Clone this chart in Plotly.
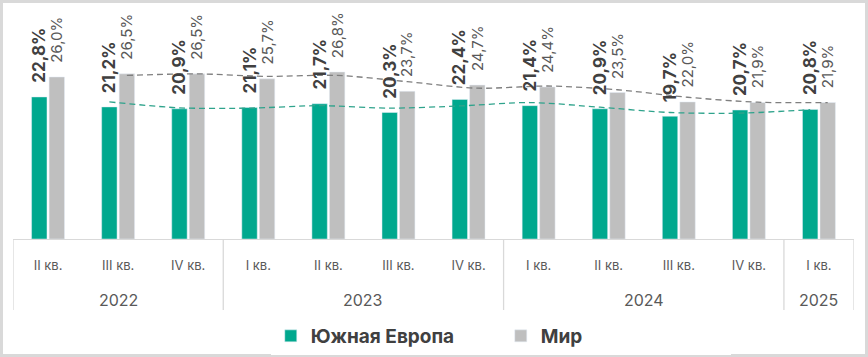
import plotly.graph_objects as go

quarters = ["II кв.", "III кв.", "IV кв.", "I кв.", "II кв.", "III кв.", "IV кв.",
            "I кв.", "II кв.", "III кв.", "IV кв.", "I кв."]
years = ["2022", "2022", "2022", "2023", "2023", "2023", "2023",
         "2024", "2024", "2024", "2024", "2025"]
south = [22.8, 21.2, 20.9, 21.1, 21.7, 20.3, 22.4, 21.4, 20.9, 19.7, 20.7, 20.8]
world = [26.0, 26.5, 26.5, 25.7, 26.8, 23.7, 24.7, 24.4, 23.5, 22.0, 21.9, 21.9]
# trend lines (2-period moving average, starting at second quarter)
south_trend = [22.0, 21.05, 21.0, 21.4, 21.0, 21.35, 21.9, 21.15, 20.3, 20.2, 20.75]
world_trend = [26.25, 26.5, 26.1, 26.25, 25.25, 24.2, 24.55, 23.95, 22.75, 21.95, 21.9]

FONT = "Inter"
GREEN = "#00A88E"
GREY = "#BFBFBF"
idx = list(range(len(quarters)))
off = 0.125

fig = go.Figure()
fig.add_bar(x=idx, y=south, name="Южная Европа", marker_color=GREEN)
fig.add_bar(x=idx, y=world, name="Мир", marker_color=GREY)
fig.add_scatter(x=[i - off for i in idx[1:]], y=south_trend, mode="lines",
                line=dict(color="#2FA38C", width=1.3, dash="6px,4px", shape="spline", smoothing=0.8),
                showlegend=False, hoverinfo="skip")
fig.add_scatter(x=[i + off for i in idx[1:]], y=world_trend, mode="lines",
                line=dict(color="#7F7F7F", width=1.3, dash="6px,4px", shape="spline", smoothing=0.8),
                showlegend=False, hoverinfo="skip")

ann = []
for i, v in zip(idx, south):
    ann.append(dict(x=i - off, y=v, xref="x", yref="y", text=f"{v:.1f}%".replace(".", ","),
                    textangle=-90, showarrow=False, xanchor="center", yanchor="bottom", yshift=12,
                    font=dict(family=FONT, size=17, color="#404040", weight="bold")))
for i, v in zip(idx, world):
    ann.append(dict(x=i + off, y=v, xref="x", yref="y", text=f"{v:.1f}%".replace(".", ","),
                    textangle=-90, showarrow=False, xanchor="center", yanchor="bottom", yshift=12,
                    font=dict(family=FONT, size=15, color="#595959")))

# year groups
groups = []
for i, yv in enumerate(years):
    if not groups or groups[-1][0] != yv:
        groups.append([yv, i, i])
    else:
        groups[-1][2] = i
shapes = []
for yv, a, b in groups:
    ann.append(dict(x=(a + b) / 2, y=-60.5 / 229, xref="x", yref="paper", text=yv, showarrow=False,
                    xanchor="center", yanchor="middle",
                    font=dict(family=FONT, size=16, color="#595959")))
    shapes.append(dict(type="line", xref="x", yref="paper", x0=a - 0.5, x1=a - 0.5, y0=0, y1=-71 / 229,
                       line=dict(color="#D9D9D9", width=1.3)))
shapes.append(dict(type="line", xref="x", yref="paper", x0=idx[-1] + 0.5, x1=idx[-1] + 0.5, y0=0, y1=-71 / 229,
                   line=dict(color="#D9D9D9", width=1.3)))
# outer border
shapes.append(dict(type="rect", xref="paper", yref="paper",
                   x0=-11.5 / 841, x1=1 + 12.5 / 841, y0=-116.5 / 229, y1=1 + 8.5 / 229,
                   line=dict(color="#D9D9D9", width=3), layer="below"))

fig.update_layout(
    width=868, height=357,
    margin=dict(l=13, r=14, t=10, b=118, autoexpand=False),
    paper_bgcolor="white", plot_bgcolor="white",
    barmode="group", bargap=0.5, bargroupgap=0.12,
    font=dict(family=FONT, color="#595959"),
    xaxis=dict(range=[-0.5, len(idx) - 0.5], tickvals=idx, ticktext=quarters, showgrid=False,
               zeroline=False, showline=True, linecolor="#D9D9D9", linewidth=1.3,
               ticks="outside", ticklen=14, tickcolor="rgba(0,0,0,0)",
               tickfont=dict(family=FONT, size=13, color="#595959")),
    yaxis=dict(range=[0, 36.75], visible=False),
    legend=dict(orientation="h", x=0.580, xanchor="center", y=-97 / 229, yanchor="middle",
                entrywidth=185, entrywidthmode="pixels",
                font=dict(family=FONT, size=19, color="#404040", weight="bold")),
    annotations=ann, shapes=shapes,
)
fig.write_html("out.html", config={"displayModeBar": False},
               post_script="document.body.style.margin='0';document.body.style.overflow='hidden';")
